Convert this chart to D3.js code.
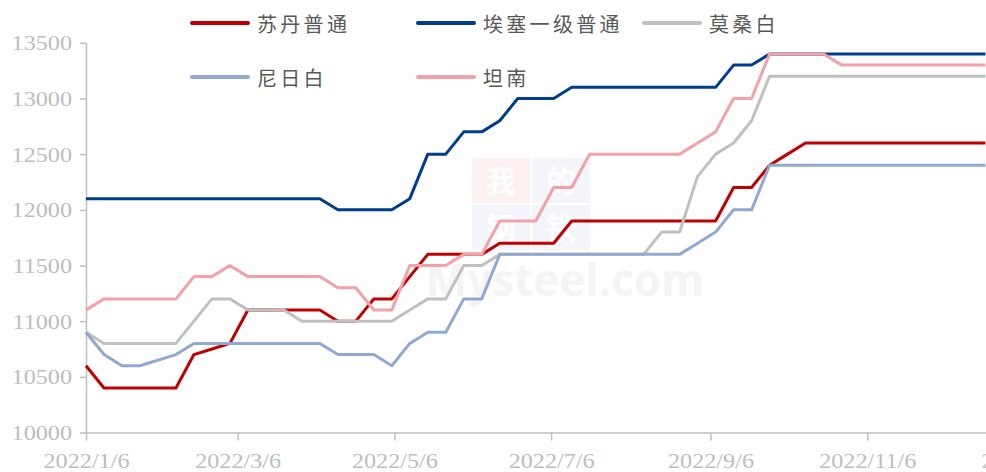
<!DOCTYPE html>
<html>
<head>
<meta charset="utf-8">
<script src="https://cdn.jsdelivr.net/npm/d3@7"></script>
<style>
  body { margin: 0; background: #fff; }
  svg { display: block; }
</style>
</head>
<body>
<svg></svg>
<script>
// weekly quotes, 2022 (no quote in the Spring Festival week)
const dates = [
  "2022-01-06","2022-01-13","2022-01-20","2022-01-27","2022-02-10","2022-02-17","2022-02-24",
  "2022-03-03","2022-03-10","2022-03-17","2022-03-24","2022-03-31","2022-04-07","2022-04-14",
  "2022-04-21","2022-04-28","2022-05-05","2022-05-12","2022-05-19","2022-05-26","2022-06-02",
  "2022-06-09","2022-06-16","2022-06-23","2022-06-30","2022-07-07","2022-07-14","2022-07-21",
  "2022-07-28","2022-08-04","2022-08-11","2022-08-18","2022-08-25","2022-09-01","2022-09-08",
  "2022-09-15","2022-09-22","2022-09-29","2022-10-06","2022-10-13","2022-10-20","2022-10-27",
  "2022-11-03","2022-11-10","2022-11-17","2022-11-24","2022-12-01","2022-12-08","2022-12-15",
  "2022-12-22"
];

const sudan = [
  10600,10400,10400,10400,10400,10700,10750,10800,11100,11100,11100,11100,11100,11000,
  11000,11200,11200,11400,11600,11600,11600,11600,11700,11700,11700,11700,11900,11900,
  11900,11900,11900,11900,11900,11900,11900,12200,12200,12400,12500,12600,12600,12600,
  12600,12600,12600,12600,12600,12600,12600,12600
];
const ethiopia = [
  12100,12100,12100,12100,12100,12100,12100,12100,12100,12100,12100,12100,12100,12000,
  12000,12000,12000,12100,12500,12500,12700,12700,12800,13000,13000,13000,13100,13100,
  13100,13100,13100,13100,13100,13100,13100,13300,13300,13400,13400,13400,13400,13400,
  13400,13400,13400,13400,13400,13400,13400,13400
];
const mozambique = [
  10900,10800,10800,10800,10800,11000,11200,11200,11100,11100,11100,11000,11000,11000,
  11000,11000,11000,11100,11200,11200,11500,11500,11600,11600,11600,11600,11600,11600,
  11600,11600,11600,11800,11800,12300,12500,12600,12800,13200,13200,13200,13200,13200,
  13200,13200,13200,13200,13200,13200,13200,13200
];
const nigeria = [
  10900,10700,10600,10600,10700,10800,10800,10800,10800,10800,10800,10800,10800,10700,
  10700,10700,10600,10800,10900,10900,11200,11200,11600,11600,11600,11600,11600,11600,
  11600,11600,11600,11600,11600,11700,11800,12000,12000,12400,12400,12400,12400,12400,
  12400,12400,12400,12400,12400,12400,12400,12400
];
const tanzania = [
  11100,11200,11200,11200,11200,11400,11400,11500,11400,11400,11400,11400,11400,11300,
  11300,11100,11100,11500,11500,11500,11600,11600,11900,11900,11900,12200,12200,12500,
  12500,12500,12500,12500,12500,12600,12700,13000,13000,13400,13400,13400,13400,13300,
  13300,13300,13300,13300,13300,13300,13300,13300
];

const names = ["苏丹普通", "埃塞一级普通", "莫桑白", "尼日白", "坦南"];
const colors = ["#c00000", "#003d8f", "#c0c0c0", "#8fa9d3", "#f3a0a8"];
const seriesValues = [sudan, ethiopia, mozambique, nigeria, tanzania];

const yTicks = [10000, 10500, 11000, 11500, 12000, 12500, 13000, 13500];
const xTicks = ["2022-01-06","2022-03-06","2022-05-06","2022-07-06","2022-09-06","2022-11-06","2023-01-06"];

const W = 986, H = 472;
const parse = d3.timeParse("%Y-%m-%d");
const svg = d3.select("svg").attr("width", W).attr("height", H);

const x = d3.scaleTime()
  .domain([parse("2022-01-06"), parse("2023-01-06")])
  .range([86, 1024]);
const y = d3.scaleLinear()
  .domain([10000, 13500])
  .range([432.5, 42.8]);

// faint watermark
const wm = svg.append("g").attr("opacity", 0.35);
[["我", 472, 158, "#fbd5d5"], ["的", 532, 158, "#dde5f3"],
 ["钢", 472, 205, "#dde5f3"], ["铁", 532, 205, "#dde5f3"]].forEach(c => {
  wm.append("rect").attr("x", c[1]).attr("y", c[2]).attr("width", 58).attr("height", 45).attr("fill", c[3]);
  wm.append("text").attr("x", c[1] + 29).attr("y", c[2] + 34)
    .attr("text-anchor", "middle").attr("font-family", "Noto Sans CJK SC")
    .attr("font-size", 30).attr("font-weight", 700).attr("fill", "#ffffff").text(c[0]);
});
svg.append("text").attr("x", 565).attr("y", 296).attr("text-anchor", "middle")
  .attr("font-family", "Open Sans, sans-serif").attr("font-weight", 700)
  .attr("font-size", 44).attr("fill", "#f4f4f4").text("Mysteel.com");

// axes
const axisColor = "#bfbfbf";
const gy = svg.append("g").attr("transform", "translate(86,0)")
  .call(d3.axisLeft(y).tickValues(yTicks).tickSize(6).tickSizeOuter(0).tickPadding(8)
    .tickFormat(d3.format("d")));
const gx = svg.append("g").attr("transform", "translate(0,432.5)")
  .call(d3.axisBottom(x).tickValues(xTicks.map(parse)).tickSize(8).tickSizeOuter(0)
    .tickPadding(12).tickFormat(d3.timeFormat("%Y/%-m/%-d")));

const stretch = 1.1;
[gx, gy].forEach(g => {
  g.select(".domain").attr("stroke", axisColor).attr("stroke-width", 1.5);
  g.selectAll(".tick line").attr("stroke", axisColor).attr("stroke-width", 1.5);
  g.selectAll(".tick text").attr("fill", "#bdbdbd")
    .attr("font-family", "Liberation Serif, Times New Roman, serif").attr("font-size", 22)
    .attr("transform", `scale(${stretch},1)`);
});
gy.selectAll(".tick text").attr("x", -14 / stretch);

// lines
const line = d3.line()
  .x((d, i) => x(parse(dates[i])))
  .y(d => y(d));

svg.append("g").selectAll("path")
  .data(seriesValues)
  .enter()
  .append("path")
    .attr("fill", "none")
    .attr("stroke", (d, i) => colors[i])
    .attr("stroke-width", 3)
    .attr("stroke-linejoin", "round")
    .attr("d", d => line(d));

// legend
const legendPos = [
  {lx: 192, ty: 23}, {lx: 418, ty: 23}, {lx: 644, ty: 23},
  {lx: 192, ty: 77}, {lx: 418, ty: 77}
];
const legend = svg.append("g");
names.forEach((n, i) => {
  const p = legendPos[i];
  legend.append("line")
    .attr("x1", p.lx).attr("x2", p.lx + 56)
    .attr("y1", p.ty).attr("y2", p.ty)
    .attr("stroke", colors[i]).attr("stroke-width", 4).attr("stroke-linecap", "round");
  legend.append("text")
    .attr("x", p.lx + 65).attr("y", p.ty)
    .attr("dominant-baseline", "central")
    .attr("font-family", "Noto Sans CJK SC").attr("font-size", 20)
    .attr("letter-spacing", 3.3)
    .attr("fill", "#595959")
    .text(n);
});
</script>
</body>
</html>
